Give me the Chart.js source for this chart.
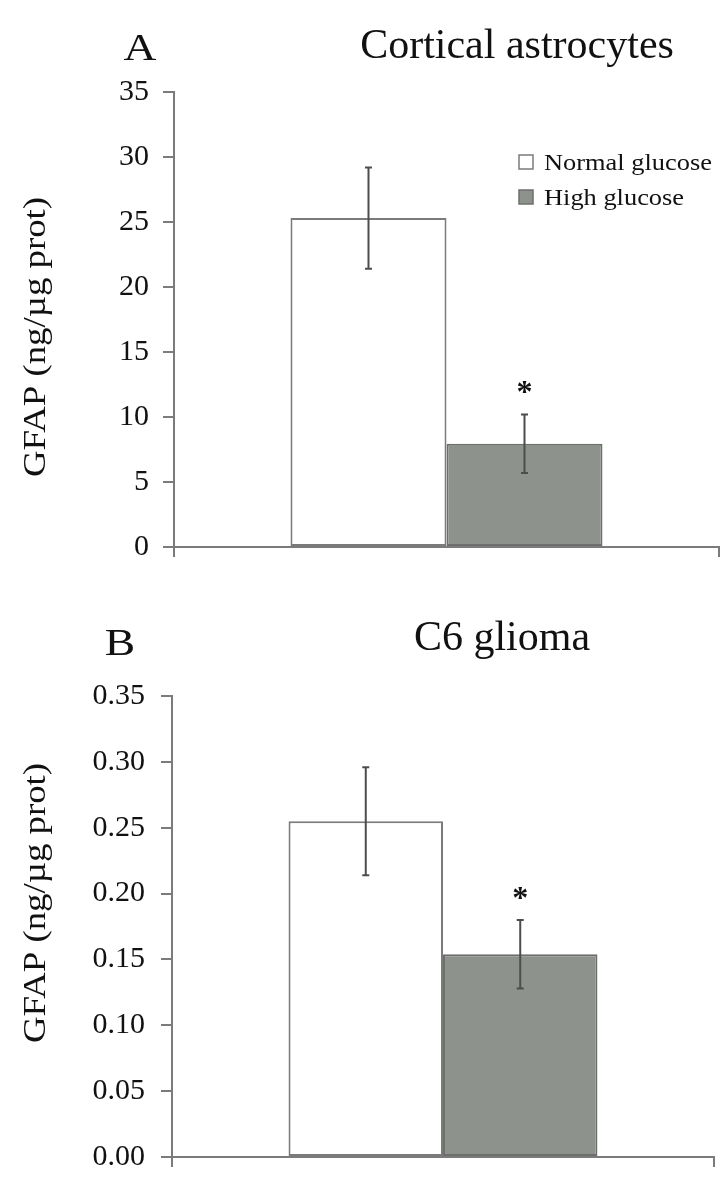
<!DOCTYPE html>
<html>
<head>
<meta charset="utf-8">
<script src="https://cdn.jsdelivr.net/npm/chart.js@4"></script>
<style>
    html, body { margin: 0; padding: 0; background: #fff; }
    .panel { position: absolute; left: 0; width: 722px; }
    #panel-a { top: 0; height: 590px; }
    #panel-b { top: 590px; height: 601px; }
</style>
</head>
<body>
<div class="panel" id="panel-a"><canvas id="chart-a"></canvas></div>
<div class="panel" id="panel-b"><canvas id="chart-b"></canvas></div>
<script>
// GFAP content, normal vs high glucose
const groups = ['Normal glucose', 'High glucose'];

const astroMean = [25.3, 7.95];
const astroErr = [3.9, 2.25];
const astroTicks = [0, 5, 10, 15, 20, 25, 30, 35];
const astroTickLabels = ['0', '5', '10', '15', '20', '25', '30', '35'];

const gliomaMean = [0.255, 0.154];
const gliomaErr = [0.041, 0.026];
const gliomaTicks = [0, 0.05, 0.10, 0.15, 0.20, 0.25, 0.30, 0.35];
const gliomaTickLabels = ['0.00', '0.05', '0.10', '0.15', '0.20', '0.25', '0.30', '0.35'];

// significance marks (true = asterisk above bar)
const astroSig = [false, true];
const gliomaSig = [false, true];

const SERIF = '"Liberation Serif", "Times New Roman", serif';
const AXIS_COLOR = '#7b7b7b';
const TEXT_COLOR = '#111';
const fills = ['#ffffff', '#8e928d'];
const borders = ['#7b7b7b', '#6c6f6b'];

function drawText(ctx, text, x, y, size, sx, align, bold) {
    ctx.save();
    ctx.translate(x, y);
    ctx.scale(sx, 1);
    ctx.font = (bold ? 'bold ' : '') + size + 'px ' + SERIF;
    ctx.fillStyle = TEXT_COLOR;
    ctx.textAlign = align;
    ctx.textBaseline = 'alphabetic';
    ctx.fillText(text, 0, 0);
    ctx.restore();
}

// letter, title, y title, legend, error bars, asterisks
const decorPlugin = {
    id: 'decor',
    afterDatasetsDraw(chart, args, opts) {
        const ctx = chart.ctx;
        const yScale = chart.scales.y;

        // error bars
        chart.data.datasets.forEach((ds, i) => {
            const bar = chart.getDatasetMeta(i).data[0];
            const top = yScale.getPixelForValue(ds.data[0] + opts.err[i]);
            const bot = yScale.getPixelForValue(ds.data[0] - opts.err[i]);
            ctx.save();
            ctx.strokeStyle = '#4d4d4d';
            ctx.lineWidth = 2;
            ctx.beginPath();
            ctx.moveTo(bar.x, top);
            ctx.lineTo(bar.x, bot);
            ctx.moveTo(bar.x - 3.5, top);
            ctx.lineTo(bar.x + 3.5, top);
            ctx.moveTo(bar.x - 3.5, bot);
            ctx.lineTo(bar.x + 3.5, bot);
            ctx.stroke();
            ctx.restore();

            if (opts.sig[i]) {
                drawText(ctx, '*', bar.x, top - 26 + 14, 32, 1, 'center', true);
            }
        });

        // panel letter and title
        drawText(ctx, opts.letter, opts.letterX, opts.letterY, 38, 1.2, 'center', false);
        drawText(ctx, opts.title, opts.titleX, opts.titleY, 42, 1, 'center', false);

        // rotated y title
        ctx.save();
        ctx.translate(45, opts.yTitleY);
        ctx.rotate(-Math.PI / 2);
        ctx.scale(1.15, 1);
        ctx.font = '32px ' + SERIF;
        ctx.fillStyle = TEXT_COLOR;
        ctx.textAlign = 'center';
        ctx.fillText('GFAP (ng/\u00b5g prot)', 0, 0);
        ctx.restore();

        // legend
        if (opts.legend) {
            groups.forEach((g, i) => {
                const y = 155 + i * 35;
                ctx.save();
                ctx.fillStyle = fills[i];
                ctx.strokeStyle = borders[i];
                ctx.lineWidth = 1.5;
                ctx.fillRect(519, y, 14, 14);
                ctx.strokeRect(519, y, 14, 14);
                ctx.restore();
                drawText(ctx, g, 544, y + 15, 24, 1.1, 'left', false);
            });
        }
    }
};

function makeChart(id, mean, err, sig, ticks, tickLabels, max, layout, decor) {
    return new Chart(document.getElementById(id), {
        type: 'bar',
        data: {
            labels: [''],
            datasets: groups.map((g, i) => ({
                label: g,
                data: [mean[i]],
                backgroundColor: fills[i],
                borderColor: borders[i],
                borderWidth: 2,
                borderSkipped: false,
                categoryPercentage: layout.catPct,
                barPercentage: 1
            }))
        },
        options: {
            responsive: true,
            maintainAspectRatio: false,
            animation: false,
            events: [],
            layout: { padding: { left: 0, right: layout.right, top: layout.top, bottom: layout.bottom } },
            plugins: {
                legend: { display: false },
                tooltip: { enabled: false },
                decor: Object.assign({ err: err, sig: sig }, decor)
            },
            scales: {
                x: {
                    grid: { drawOnChartArea: false, drawTicks: true, tickLength: 10, color: AXIS_COLOR, lineWidth: 2 },
                    border: { display: true, color: AXIS_COLOR, width: 2 },
                    ticks: { display: false },
                    afterFit(scale) { scale.height = layout.xHeight; }
                },
                y: {
                    min: 0,
                    max: max,
                    afterBuildTicks(scale) { scale.ticks = ticks.map(v => ({ value: v })); },
                    grid: { drawOnChartArea: false, drawTicks: true, tickLength: 11, color: AXIS_COLOR, lineWidth: 2 },
                    border: { display: true, color: AXIS_COLOR, width: 2 },
                    ticks: {
                        padding: layout.tickPad,
                        color: TEXT_COLOR,
                        font: { family: SERIF, size: 30 },
                        callback: (value, index) => tickLabels[index]
                    },
                    afterFit(scale) { scale.width = layout.yWidth; }
                }
            }
        },
        plugins: [decorPlugin]
    });
}

makeChart('chart-a', astroMean, astroErr, astroSig, astroTicks, astroTickLabels, 35,
    { catPct: 0.5725, right: 3, top: 92, bottom: 23, xHeight: 20, yWidth: 174, tickPad: 14 },
    { letter: 'A', letterX: 140, letterY: 60, title: 'Cortical astrocytes', titleX: 517, titleY: 58, yTitleY: 337, legend: true });

makeChart('chart-b', gliomaMean, gliomaErr, gliomaSig, gliomaTicks, gliomaTickLabels, 0.35,
    { catPct: 0.57, right: 8, top: 106, bottom: 2, xHeight: 12, yWidth: 172, tickPad: 16 },
    { letter: 'B', letterX: 120, letterY: 65, title: 'C6 glioma', titleX: 502, titleY: 60, yTitleY: 313, legend: false });
</script>
</body>
</html>
